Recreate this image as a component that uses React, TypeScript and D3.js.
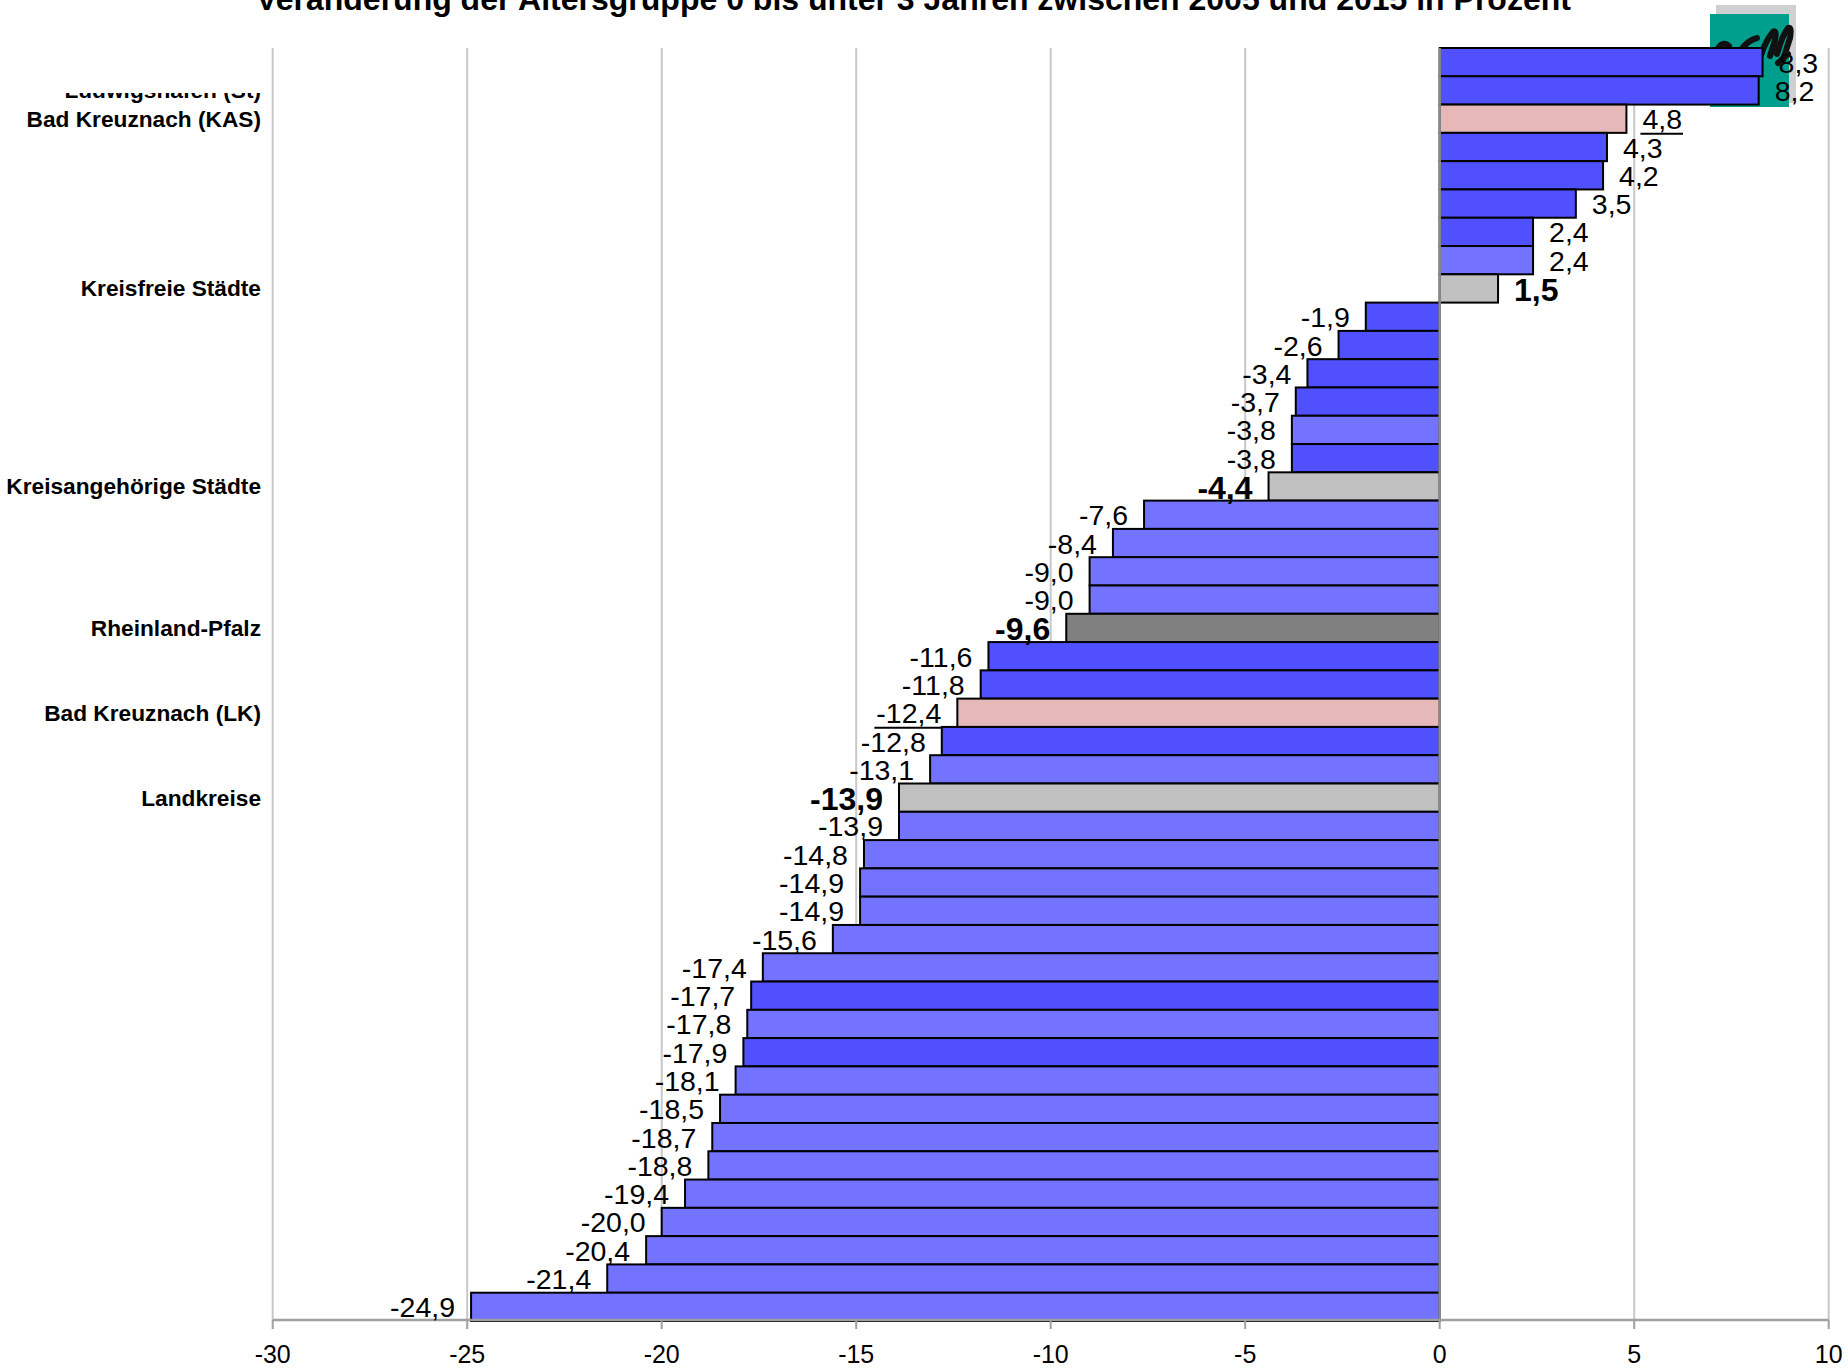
import React from "react";
import * as d3 from "d3";

// Change of the 0 to under 3 year olds, 2005–2015, in percent
const values = [
  8.3, 8.2, 4.8, 4.3, 4.2, 3.5, 2.4, 2.4, 1.5, -1.9, -2.6, -3.4, -3.7, -3.8, -3.8,
  -4.4, -7.6, -8.4, -9.0, -9.0, -9.6, -11.6, -11.8, -12.4, -12.8, -13.1, -13.9,
  -13.9, -14.8, -14.9, -14.9, -15.6, -17.4, -17.7, -17.8, -17.9, -18.1, -18.5,
  -18.7, -18.8, -19.4, -20.0, -20.4, -21.4, -24.9,
];

// a / b: single areas (two shades), bk: Bad Kreuznach, sum: group totals, rlp: state total
const rowKinds = [
  "a", "a", "bk", "a", "a", "a", "a", "b", "sum", "a", "a", "a", "a", "b", "a",
  "sum", "b", "b", "b", "b", "rlp", "a", "a", "bk", "a", "b", "sum",
  "b", "b", "b", "b", "b", "b", "a", "b", "a", "b", "b",
  "b", "b", "b", "b", "b", "b", "b",
];

const labelRows = [1, 2, 8, 15, 20, 23, 26];
const labelTexts = [
  "Ludwigshafen (St)",
  "Bad Kreuznach (KAS)",
  "Kreisfreie Städte",
  "Kreisangehörige Städte",
  "Rheinland-Pfalz",
  "Bad Kreuznach (LK)",
  "Landkreise",
];

const xTicks = [-30, -25, -20, -15, -10, -5, 0, 5, 10];

const title =
  "Veränderung der Altersgruppe 0 bis unter 3 Jahren zwischen 2005 und 2015 in Prozent";

const fillFor: Record<string, string> = {
  a: "#5050FF",
  b: "#7373FF",
  bk: "#E6B9B8",
  sum: "#C0C0C0",
  rlp: "#808080",
};

const FONT = "'Liberation Sans', Arial, Helvetica, sans-serif";
const W = 1848;
const H = 1369;

const locale = d3.formatLocale({
  decimal: ",",
  thousands: ".",
  grouping: [3],
  currency: ["", " €"],
  minus: "-",
});
const fmt = locale.format(".1f");

// Arial / Liberation Sans advance widths (per 1000 em) for the label glyphs
const glyphW: Record<string, number> = { "-": 333, ",": 278 };
const textWidth = (s: string, size: number) =>
  (Array.from(s).reduce((w, c) => w + (glyphW[c] ?? 556), 0) * size) / 1000;

export default function App() {
  const x = d3.scaleLinear().domain([-30, 10]).range([272.7, 1828.7]);
  const y = d3
    .scaleBand<number>()
    .domain(values.map((_, i) => i))
    .range([48, 1321])
    .padding(0);
  const bw = y.bandwidth();
  const axisY = 1320;
  const valSize = 28.5;
  const boldSize = 32;

  return (
    <svg
      width={W}
      height={H}
      viewBox={`0 0 ${W} ${H}`}
      style={{ position: "absolute", left: 0, top: 0, display: "block", background: "#fff" }}
      fontFamily={FONT}
    >
      <defs>
        <clipPath id="clip-row-label">
          <rect x={0} y={93} width={300} height={40} />
        </clipPath>
      </defs>
      <rect x={0} y={0} width={W} height={H} fill="#fff" />

      {/* title */}
      <text x={913.5} y={9.5} textAnchor="middle" fontSize={32} fontWeight="bold" fill="#000">
        {title}
      </text>

      {/* logo */}
      <g>
        <rect x={1716} y={5} width={80} height={98} fill="#D0D0D2" />
        <rect x={1710} y={14} width={79} height={93} fill="#009E8C" />
        <path
          d="M1719,47 Q1724,41 1729,46 M1740,51 Q1748,40 1757,38 M1761,55 Q1766,40 1773,32 Q1777,29 1775,40 L1770,56 M1777,54 Q1782,36 1788,28 Q1792,26 1790,38 L1783,60 M1778,63 L1788,54"
          fill="none"
          stroke="#111"
          strokeWidth={6}
          strokeLinecap="round"
          strokeLinejoin="round"
        />
      </g>

      {/* grid */}
      {xTicks.map((t) => (
        <line key={`g${t}`} x1={x(t)} x2={x(t)} y1={48} y2={axisY} stroke="#C8C8C8" strokeWidth={2} />
      ))}

      {/* bars */}
      {values.map((v, i) => {
        const x0 = x(Math.min(0, v));
        const x1 = x(Math.max(0, v));
        return (
          <rect
            key={`b${i}`}
            x={x0}
            y={y(i)!}
            width={x1 - x0}
            height={bw}
            fill={fillFor[rowKinds[i]]}
            stroke="#000"
            strokeWidth={2}
          />
        );
      })}

      {/* zero line and category axis */}
      <line x1={x(0)} x2={x(0)} y1={48} y2={axisY} stroke="#8A8A8A" strokeWidth={2.5} />
      <line x1={x(-30)} x2={x(10)} y1={axisY} y2={axisY} stroke="#A0A0A0" strokeWidth={2.5} />
      {xTicks.map((t) => (
        <g key={`t${t}`}>
          <line x1={x(t)} x2={x(t)} y1={axisY} y2={axisY + 9} stroke="#A0A0A0" strokeWidth={2} />
          <text x={x(t)} y={1363} textAnchor="middle" fontSize={25} fill="#000">
            {t}
          </text>
        </g>
      ))}

      {/* row labels */}
      {labelRows.map((r, k) => (
        <text
          key={`l${r}`}
          x={261}
          y={y(r)! + bw / 2 + 8}
          textAnchor="end"
          fontSize={22.7}
          fontWeight="bold"
          fill="#000"
          clipPath={k === 0 ? "url(#clip-row-label)" : undefined}
        >
          {labelTexts[k]}
        </text>
      ))}

      {/* value labels */}
      {values.map((v, i) => {
        const kind = rowKinds[i];
        const s = fmt(v);
        const bold = kind === "sum" || kind === "rlp";
        const size = bold ? boldSize : valSize;
        const base = y(i)! + bw / 2 + (bold ? 12.3 : 10.5);
        const wdt = textWidth(s, size);
        const left = v >= 0 ? x(v) + 16 : x(v) - 16 - wdt;
        return (
          <g key={`v${i}`}>
            <text
              x={v >= 0 ? x(v) + 16 : x(v) - 16}
              y={base}
              textAnchor={v >= 0 ? "start" : "end"}
              fontSize={size}
              fontWeight={bold ? "bold" : "normal"}
              fill="#000"
            >
              {s}
            </text>
            {kind === "bk" && (
              <line x1={left - 2} x2={left + wdt + 1} y1={base + 4.5} y2={base + 4.5} stroke="#000" strokeWidth={2} />
            )}
          </g>
        );
      })}
    </svg>
  );
}
